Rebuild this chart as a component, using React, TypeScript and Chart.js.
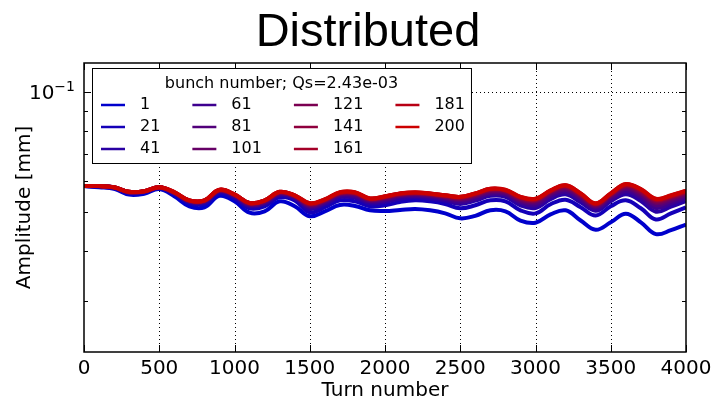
import React, { useEffect, useRef } from "react";
import { Chart, registerables } from "chart.js";

Chart.register(...registerables);

const chartTitle = "Distributed";
const xAxisTitle = "Turn number";
const yAxisTitle = "Amplitude [mm]";
const legendTitle = "bunch number; Qs=2.43e-03";

const turns = [
  0, 100, 200, 300, 400, 500, 600, 700, 800, 900, 1000, 1100, 1200, 1300, 1400,
  1500, 1600, 1700, 1800, 1900, 2000, 2100, 2200, 2300, 2400, 2500, 2600, 2700,
  2800, 2900, 3000, 3100, 3200, 3300, 3400, 3500, 3600, 3700, 3800, 3900, 4000,
];

const bunchLabels = ["1", "21", "41", "61", "81", "101", "121", "141", "161", "181", "200"];

const lineColors = [
  "rgb(0,0,204)", "rgb(20,0,184)", "rgb(41,0,163)", "rgb(61,0,143)", "rgb(82,0,122)",
  "rgb(102,0,102)", "rgb(123,0,81)", "rgb(143,0,61)", "rgb(164,0,40)", "rgb(184,0,20)",
  "rgb(204,0,0)",
];

const amp1 = [0.0582, 0.0578, 0.0573, 0.0554, 0.0557, 0.0572, 0.0549, 0.0518, 0.0515, 0.0550, 0.0533, 0.0499, 0.0503, 0.0533, 0.0518, 0.0489, 0.0503, 0.0522, 0.0519, 0.0506, 0.0504, 0.0507, 0.0510, 0.0506, 0.0497, 0.0483, 0.0490, 0.0506, 0.0503, 0.0477, 0.0471, 0.0494, 0.0506, 0.0477, 0.0452, 0.0472, 0.0496, 0.0472, 0.0441, 0.0451, 0.0466];
const amp21 = [0.0582, 0.0580, 0.0575, 0.0558, 0.0562, 0.0575, 0.0555, 0.0527, 0.0525, 0.0558, 0.0542, 0.0512, 0.0518, 0.0546, 0.0536, 0.0500, 0.0515, 0.0536, 0.0533, 0.0518, 0.0521, 0.0531, 0.0536, 0.0533, 0.0525, 0.0512, 0.0521, 0.0536, 0.0533, 0.0506, 0.0497, 0.0524, 0.0538, 0.0515, 0.0491, 0.0518, 0.0536, 0.0512, 0.0480, 0.0497, 0.0515];
const amp41 = [0.0582, 0.0581, 0.0576, 0.0560, 0.0563, 0.0576, 0.0558, 0.0530, 0.0529, 0.0563, 0.0547, 0.0518, 0.0525, 0.0552, 0.0542, 0.0510, 0.0524, 0.0546, 0.0544, 0.0527, 0.0531, 0.0541, 0.0546, 0.0542, 0.0535, 0.0525, 0.0535, 0.0550, 0.0547, 0.0521, 0.0513, 0.0540, 0.0555, 0.0530, 0.0505, 0.0533, 0.0555, 0.0534, 0.0502, 0.0517, 0.0534];
const amp61 = [0.0582, 0.0582, 0.0577, 0.0561, 0.0563, 0.0577, 0.0559, 0.0532, 0.0531, 0.0565, 0.0549, 0.0521, 0.0528, 0.0555, 0.0545, 0.0515, 0.0528, 0.0550, 0.0549, 0.0532, 0.0536, 0.0547, 0.0550, 0.0547, 0.0540, 0.0531, 0.0541, 0.0556, 0.0553, 0.0529, 0.0521, 0.0548, 0.0563, 0.0539, 0.0511, 0.0540, 0.0565, 0.0545, 0.0513, 0.0527, 0.0543];
const amp81 = [0.0582, 0.0582, 0.0577, 0.0562, 0.0564, 0.0577, 0.0560, 0.0533, 0.0533, 0.0566, 0.0551, 0.0523, 0.0530, 0.0558, 0.0547, 0.0518, 0.0532, 0.0554, 0.0553, 0.0535, 0.0540, 0.0550, 0.0554, 0.0550, 0.0544, 0.0536, 0.0547, 0.0561, 0.0558, 0.0534, 0.0527, 0.0554, 0.0570, 0.0545, 0.0516, 0.0546, 0.0572, 0.0552, 0.0521, 0.0534, 0.0550];
const amp101 = [0.0582, 0.0582, 0.0578, 0.0562, 0.0564, 0.0578, 0.0560, 0.0534, 0.0534, 0.0567, 0.0553, 0.0525, 0.0532, 0.0559, 0.0549, 0.0521, 0.0534, 0.0556, 0.0556, 0.0537, 0.0543, 0.0553, 0.0556, 0.0553, 0.0546, 0.0540, 0.0550, 0.0565, 0.0562, 0.0538, 0.0532, 0.0559, 0.0575, 0.0549, 0.0519, 0.0550, 0.0577, 0.0558, 0.0528, 0.0540, 0.0555];
const amp121 = [0.0582, 0.0582, 0.0578, 0.0562, 0.0565, 0.0578, 0.0561, 0.0535, 0.0535, 0.0568, 0.0553, 0.0526, 0.0534, 0.0561, 0.0550, 0.0523, 0.0536, 0.0558, 0.0558, 0.0539, 0.0545, 0.0554, 0.0558, 0.0555, 0.0548, 0.0542, 0.0553, 0.0568, 0.0565, 0.0541, 0.0535, 0.0562, 0.0578, 0.0552, 0.0522, 0.0553, 0.0581, 0.0562, 0.0532, 0.0544, 0.0559];
const amp141 = [0.0582, 0.0582, 0.0578, 0.0563, 0.0565, 0.0578, 0.0561, 0.0535, 0.0535, 0.0569, 0.0554, 0.0527, 0.0535, 0.0562, 0.0551, 0.0525, 0.0537, 0.0559, 0.0559, 0.0540, 0.0546, 0.0556, 0.0559, 0.0556, 0.0550, 0.0544, 0.0555, 0.0570, 0.0567, 0.0544, 0.0537, 0.0564, 0.0581, 0.0554, 0.0524, 0.0555, 0.0584, 0.0566, 0.0536, 0.0547, 0.0562];
const amp161 = [0.0582, 0.0582, 0.0578, 0.0563, 0.0565, 0.0578, 0.0561, 0.0536, 0.0535, 0.0569, 0.0554, 0.0528, 0.0535, 0.0562, 0.0551, 0.0526, 0.0538, 0.0560, 0.0560, 0.0541, 0.0548, 0.0557, 0.0560, 0.0557, 0.0551, 0.0546, 0.0557, 0.0572, 0.0568, 0.0545, 0.0539, 0.0566, 0.0583, 0.0556, 0.0525, 0.0556, 0.0586, 0.0569, 0.0538, 0.0549, 0.0564];
const amp181 = [0.0582, 0.0582, 0.0578, 0.0563, 0.0565, 0.0578, 0.0562, 0.0536, 0.0536, 0.0570, 0.0555, 0.0528, 0.0536, 0.0563, 0.0552, 0.0527, 0.0539, 0.0561, 0.0561, 0.0542, 0.0548, 0.0558, 0.0561, 0.0558, 0.0552, 0.0547, 0.0558, 0.0573, 0.0569, 0.0547, 0.0540, 0.0567, 0.0585, 0.0558, 0.0526, 0.0558, 0.0588, 0.0571, 0.0540, 0.0551, 0.0566];
const amp200 = [0.0582, 0.0582, 0.0578, 0.0563, 0.0565, 0.0578, 0.0562, 0.0536, 0.0536, 0.0570, 0.0555, 0.0528, 0.0536, 0.0563, 0.0552, 0.0527, 0.0539, 0.0562, 0.0562, 0.0542, 0.0549, 0.0558, 0.0562, 0.0558, 0.0552, 0.0547, 0.0558, 0.0573, 0.0570, 0.0547, 0.0541, 0.0568, 0.0585, 0.0558, 0.0527, 0.0558, 0.0589, 0.0572, 0.0541, 0.0552, 0.0567];

const seriesValues = [amp1, amp21, amp41, amp61, amp81, amp101, amp121, amp141, amp161, amp181, amp200];

const xTickValues = [0, 500, 1000, 1500, 2000, 2500, 3000, 3500, 4000];
const yMajorTicks = [0.1];
const yMinorTicks = [0.03, 0.04, 0.05, 0.06, 0.07, 0.08, 0.09];
const yMajorBase = "10";
const yMajorExp = "\u22121";
const xMin = 0;
const xMax = 4000;
const yMin = 0.0223;
const yMax = 0.1186;

const axisFont = "DejaVu Sans";

const titlePlugin = {
  id: "figTitle",
  afterDraw(chart: any) {
    const { ctx } = chart;
    ctx.save();
    ctx.font = `47px "Liberation Sans", Arial, sans-serif`;
    ctx.fillStyle = "#000";
    ctx.textAlign = "center";
    ctx.textBaseline = "alphabetic";
    ctx.fillText(chartTitle, 368, 46);
    ctx.restore();
  },
};

const yLabelPlugin = {
  id: "yPowerLabel",
  afterDraw(chart: any) {
    const { ctx, chartArea, scales } = chart;
    ctx.save();
    ctx.fillStyle = "#000";
    ctx.textBaseline = "alphabetic";
    ctx.textAlign = "left";
    yMajorTicks.forEach((v) => {
      const py = scales.y.getPixelForValue(v);
      const rightEdge = chartArea.left - 9;
      ctx.font = `14px "${axisFont}"`;
      const expW = ctx.measureText(yMajorExp).width;
      ctx.font = `20px "${axisFont}"`;
      const baseW = ctx.measureText(yMajorBase).width;
      const x0 = rightEdge - expW - baseW;
      ctx.fillText(yMajorBase, x0, py + 7);
      ctx.font = `14px "${axisFont}"`;
      ctx.fillText(yMajorExp, x0 + baseW, py - 1);
    });
    ctx.restore();
  },
};

const gridPlugin = {
  id: "mplGrid",
  beforeDatasetsDraw(chart: any) {
    const { ctx, chartArea, scales } = chart;
    const { left, right, top, bottom } = chartArea;
    ctx.save();
    ctx.strokeStyle = "#000";
    ctx.lineWidth = 1;
    ctx.setLineDash([1, 3]);
    xTickValues.forEach((v) => {
      if (v === xMin || v === xMax) return;
      const px = Math.round(scales.x.getPixelForValue(v)) + 0.5;
      ctx.beginPath();
      ctx.moveTo(px, top);
      ctx.lineTo(px, bottom);
      ctx.stroke();
    });
    yMajorTicks.forEach((v) => {
      const py = Math.round(scales.y.getPixelForValue(v)) + 0.5;
      ctx.beginPath();
      ctx.moveTo(left, py);
      ctx.lineTo(right, py);
      ctx.stroke();
    });
    ctx.restore();
  },
  afterDatasetsDraw(chart: any) {
    const { ctx, chartArea, scales } = chart;
    const { left, right, top, bottom } = chartArea;
    ctx.save();
    ctx.strokeStyle = "#000";
    ctx.lineWidth = 1;
    ctx.setLineDash([]);
    const major = 7;
    const minor = 4;
    xTickValues.forEach((v) => {
      const px = Math.round(scales.x.getPixelForValue(v)) + 0.5;
      ctx.beginPath();
      ctx.moveTo(px, bottom);
      ctx.lineTo(px, bottom - major);
      ctx.moveTo(px, top);
      ctx.lineTo(px, top + major);
      ctx.stroke();
    });
    const yTick = (v: number, len: number) => {
      const py = Math.round(scales.y.getPixelForValue(v)) + 0.5;
      ctx.beginPath();
      ctx.moveTo(left, py);
      ctx.lineTo(left + len, py);
      ctx.moveTo(right, py);
      ctx.lineTo(right - len, py);
      ctx.stroke();
    };
    yMajorTicks.forEach((v) => yTick(v, major));
    yMinorTicks.forEach((v) => yTick(v, minor));
    ctx.lineWidth = 1.5;
    ctx.strokeRect(left, top, right - left, bottom - top);
    ctx.restore();
  },
};

const legendPlugin = {
  id: "bunchLegend",
  afterDraw(chart: any) {
    const { ctx, chartArea } = chart;
    const datasets = chart.data.datasets;
    ctx.save();
    ctx.font = `16px "${axisFont}"`;
    const rows = 3;
    const cols = Math.ceil(datasets.length / rows);
    const handleLen = 24;
    const handleGap = 15;
    const colGap = 32;
    const boxLeft = chartArea.left + 8;
    const boxTop = chartArea.top + 5;
    const firstX = boxLeft + 9;
    const colX: number[] = [];
    let cx = firstX;
    let lastEnd = firstX;
    for (let c = 0; c < cols; c++) {
      colX.push(cx);
      let maxW = 0;
      for (let r = 0; r < rows; r++) {
        const i = c * rows + r;
        if (i < datasets.length) maxW = Math.max(maxW, ctx.measureText(datasets[i].label).width);
      }
      lastEnd = cx + handleLen + handleGap + maxW;
      cx = lastEnd + colGap;
    }
    const boxRight = lastEnd + 6;
    const boxBottom = boxTop + 95;
    ctx.fillStyle = "#fff";
    ctx.fillRect(boxLeft, boxTop, boxRight - boxLeft, boxBottom - boxTop);
    ctx.strokeStyle = "#000";
    ctx.lineWidth = 1;
    ctx.strokeRect(boxLeft + 0.5, boxTop + 0.5, boxRight - boxLeft, boxBottom - boxTop);
    ctx.fillStyle = "#000";
    ctx.textBaseline = "middle";
    ctx.textAlign = "center";
    ctx.fillText(legendTitle, (boxLeft + boxRight) / 2, boxTop + 16);
    ctx.textAlign = "left";
    for (let i = 0; i < datasets.length; i++) {
      const c = Math.floor(i / rows);
      const r = i % rows;
      const y = boxTop + 37 + r * 22;
      const x = colX[c];
      ctx.strokeStyle = datasets[i].borderColor;
      ctx.lineWidth = 2.5;
      ctx.beginPath();
      ctx.moveTo(x, y);
      ctx.lineTo(x + handleLen, y);
      ctx.stroke();
      ctx.fillStyle = "#000";
      ctx.fillText(datasets[i].label, x + handleLen + handleGap, y);
    }
    ctx.restore();
  },
};

export default function App() {
  const canvasRef = useRef<HTMLCanvasElement | null>(null);

  useEffect(() => {
    const canvas = canvasRef.current;
    if (!canvas) return;
    const n = seriesValues.length;
    const datasets = seriesValues.map((vals, i) => ({
      label: bunchLabels[i],
      data: turns.map((t, j) => ({ x: t, y: vals[j] })),
      borderColor: lineColors[i],
      backgroundColor: lineColors[i],
      borderWidth: 4,
      pointRadius: 0,
      tension: 0.4,
      fill: false,
      order: n - i,
    }));
    const chart = new Chart(canvas, {
      type: "line",
      data: { datasets },
      plugins: [gridPlugin, legendPlugin, titlePlugin, yLabelPlugin],
      options: {
        responsive: false,
        animation: false,
        devicePixelRatio: 1,
        layout: { padding: { left: 0, right: 27, top: 63, bottom: 0 } },
        plugins: {
          legend: { display: false },
          tooltip: { enabled: false },
          title: { display: false },
        },
        scales: {
          x: {
            type: "linear",
            position: "bottom",
            min: xMin,
            max: xMax,
            grid: { display: false, drawTicks: false },
            border: { display: false },
            afterBuildTicks: (scale: any) => {
              scale.ticks = xTickValues.map((v) => ({ value: v }));
            },
            ticks: {
              color: "#000",
              font: { family: axisFont, size: 20 },
              padding: 5,
              maxRotation: 0,
              autoSkip: false,
              callback: (v: any) => String(v),
            },
            title: {
              display: true,
              text: xAxisTitle,
              color: "#000",
              font: { family: axisFont, size: 20 },
              padding: { top: 0, bottom: 0 },
            },
            afterFit: (scale: any) => {
              scale.height = 51;
              scale.paddingLeft = 0;
              scale.paddingRight = 0;
            },
          },
          y: {
            type: "logarithmic",
            position: "left",
            min: yMin,
            max: yMax,
            grid: { display: false, drawTicks: false },
            border: { display: false },
            afterBuildTicks: (scale: any) => {
              scale.ticks = [...yMinorTicks, ...yMajorTicks].map((v) => ({ value: v }));
            },
            ticks: {
              color: "#000",
              font: { family: axisFont, size: 20 },
              padding: 9,
              autoSkip: false,
              callback: () => "",
            },
            title: {
              display: true,
              text: yAxisTitle,
              color: "#000",
              font: { family: axisFont, size: 20 },
              padding: { top: 13, bottom: 0 },
            },
            afterFit: (scale: any) => {
              scale.width = 84;
              scale.paddingTop = 0;
              scale.paddingBottom = 0;
            },
          },
        },
      } as any,
    });
    return () => chart.destroy();
  }, []);

  return (
    <div style={{ position: "absolute", left: 0, top: 0, width: 713, height: 403, background: "#fff" }}>
      <canvas ref={canvasRef} width={713} height={403} style={{ display: "block" }} />
    </div>
  );
}
